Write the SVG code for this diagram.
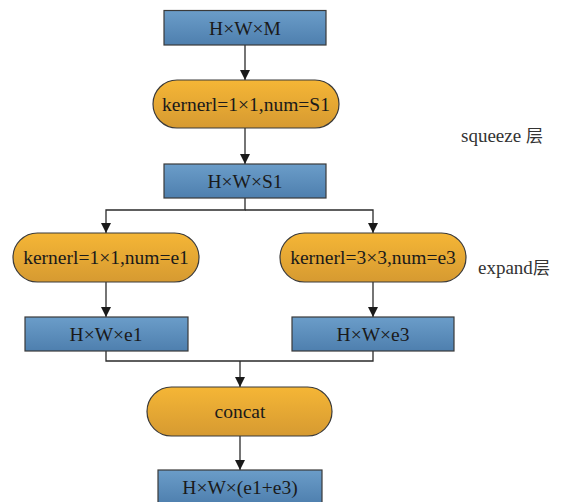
<svg xmlns="http://www.w3.org/2000/svg" width="563" height="502" viewBox="0 0 563 502">
<defs>
<linearGradient id="gb" x1="0" y1="0" x2="0" y2="1"><stop offset="0" stop-color="#6b9dc9"/><stop offset="1" stop-color="#4e7fae"/></linearGradient>
<linearGradient id="go" x1="0" y1="0" x2="0" y2="1"><stop offset="0" stop-color="#f5b636"/><stop offset="1" stop-color="#d69a31"/></linearGradient>
<marker id="ah" markerWidth="10" markerHeight="14" refX="10" refY="5" orient="auto" markerUnits="userSpaceOnUse" viewBox="0 0 10 10">
<path d="M0,0 L10,5 L0,10 Z" fill="#1a1a1a"/></marker>
</defs>
<g id="connectors" fill="none" stroke="#2a2a2a" stroke-width="1.3">
<line x1="245" y1="45" x2="245" y2="80" marker-end="url(#ah)"/>
<line x1="245" y1="128" x2="245" y2="164" marker-end="url(#ah)"/>
<polyline points="245,198 245,210 106,210 106,233" marker-end="url(#ah)"/>
<polyline points="245,210 373,210 373,233" marker-end="url(#ah)"/>
<line x1="106" y1="282" x2="106" y2="317" marker-end="url(#ah)"/>
<line x1="373" y1="282" x2="373" y2="317" marker-end="url(#ah)"/>
<polyline points="106,351 106,361 373,361 373,351"/>
<line x1="240" y1="361" x2="240" y2="387" marker-end="url(#ah)"/>
<line x1="240" y1="436" x2="240" y2="470" marker-end="url(#ah)"/>
</g>
<g stroke="#3a3a3a" stroke-width="1.2">
<g id="n1"><rect fill="url(#gb)" x="164" y="10.5" width="162" height="34.5"/></g>
<g id="n2"><rect fill="url(#go)" x="153" y="80" width="186" height="48" rx="24"/></g>
<g id="n3"><rect fill="url(#gb)" x="164" y="164" width="162" height="34"/></g>
<g id="n4"><rect fill="url(#go)" x="13" y="233" width="186" height="49" rx="24.5"/></g>
<g id="n5"><rect fill="url(#go)" x="280" y="233" width="186" height="49" rx="24.5"/></g>
<g id="n6"><rect fill="url(#gb)" x="25" y="317" width="163" height="34"/></g>
<g id="n7"><rect fill="url(#gb)" x="292" y="317" width="162" height="34"/></g>
<g id="n8"><rect fill="url(#go)" x="147" y="387" width="185" height="49" rx="24.5"/></g>
<g id="n9"><rect fill="url(#gb)" x="158" y="470" width="164" height="34"/></g>
</g>
<g id="texts" font-family="Liberation Serif" font-size="19.5" fill="#1a1a1a" text-anchor="middle">
<text x="245" y="35">H×W×M</text>
<text x="246" y="111">kernerl=1×1,num=S1</text>
<text x="245" y="188">H×W×S1</text>
<text x="106" y="264">kernerl=1×1,num=e1</text>
<text x="373" y="264">kernerl=3×3,num=e3</text>
<text x="106" y="341">H×W×e1</text>
<text x="373" y="341">H×W×e3</text>
<text x="240" y="418">concat</text>
<text x="240" y="494">H×W×(e1+e3)</text>
</g>
<g id="labels" font-family="Liberation Serif" font-size="19" fill="#333">
<text x="461" y="142">squeeze <tspan font-family="Noto Sans CJK SC" font-size="17">层</tspan></text>
<text x="478" y="274">expand<tspan font-family="Noto Sans CJK SC" font-size="17">层</tspan></text>
</g>
</svg>
